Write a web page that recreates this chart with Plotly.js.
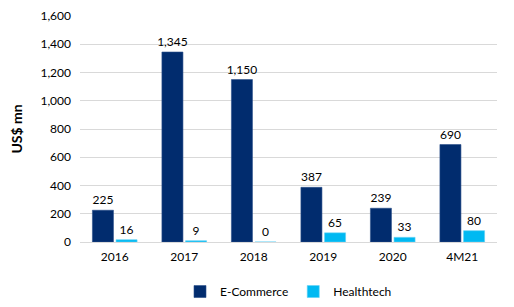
<!DOCTYPE html>
<html><head><meta charset="utf-8">
<script src="https://cdn.plot.ly/plotly-3.0.1.min.js"></script>
<style>html,body{margin:0;padding:0;background:#fff}#c{width:514px;height:307px}</style>
</head><body><div id="c"></div>
<script>
const categories = ["2016","2017","2018","2019","2020","4M21"];
const ecommerce = [225, 1345, 1150, 387, 239, 690];
const healthtech = [16, 9, 0, 65, 33, 80];
const yTicks = [0,200,400,600,800,1000,1200,1400,1600];

const fnt = {family: "Lato, 'Open Sans', sans-serif", size: 12, color: "#000"};
const traces = [
  {type:"bar", name:"E-Commerce", x:categories, y:ecommerce,
   marker:{color:"#012C6E", line:{color:"#2a4f8a", width:0.6}},
   text:ecommerce.map(v=>v.toLocaleString("en-US")), textposition:"outside",
   textfont:fnt, cliponaxis:false, constraintext:"none"},
  {type:"bar", name:"Healthtech", x:categories, y:healthtech,
   marker:{color:"#00B9F2", line:{color:"#5fd0f5", width:0.6}},
   text:healthtech.map(v=>v.toLocaleString("en-US")), textposition:"outside",
   textfont:fnt, cliponaxis:false, constraintext:"none"}
];
const layout = {
  width:514, height:307,
  margin:{l:80, r:17, t:16, b:65, autoexpand:false},
  paper_bgcolor:"#fff", plot_bgcolor:"#fff",
  barmode:"group", bargap:0.32, bargroupgap:0.11,
  font:fnt,
  xaxis:{type:"category", showgrid:false, showline:false, ticks:"", tickfont:fnt, automargin:false, ticklabelstandoff:6},
  yaxis:{range:[0,1600], tickvals:yTicks, tickformat:",", showgrid:true, automargin:false,
         gridcolor:"#d9d9d9", gridwidth:1, zeroline:true, zerolinecolor:"#d9d9d9",
         showline:false, ticks:"", ticklabelstandoff:8, tickfont:fnt,
         title:{text:"<b>US$ mn</b>", font:{family:"Lato, sans-serif", size:14, color:"#000"}, standoff:14}},
  legend:{orientation:"h", x:0.5, xanchor:"center", y:-0.155, yanchor:"top",
          font:fnt, traceorder:"normal"},
  showlegend:true
};
Plotly.newPlot("c", traces, layout, {staticPlot:true, displayModeBar:false});
</script></body></html>
